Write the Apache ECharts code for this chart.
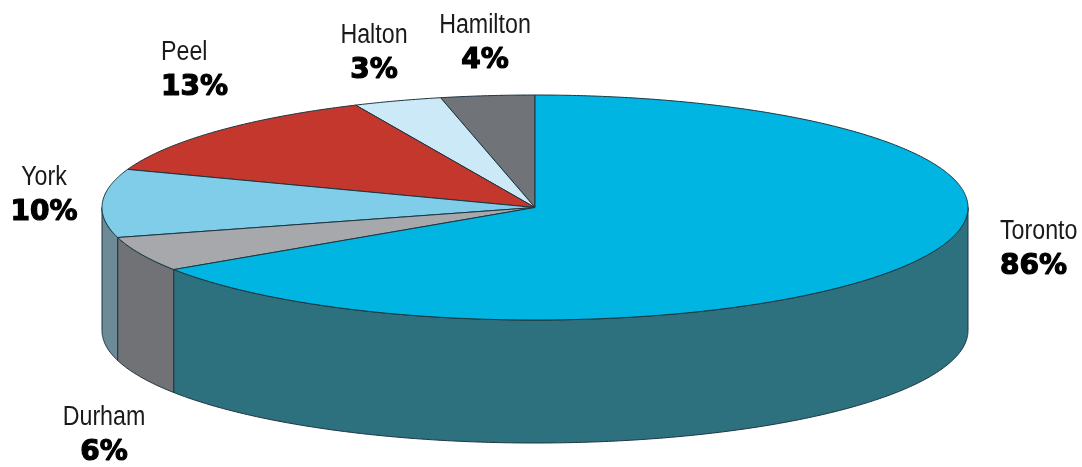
<!DOCTYPE html>
<html>
<head>
<meta charset="utf-8">
<script src="https://cdn.jsdelivr.net/npm/echarts@6/dist/echarts.min.js"></script>
<style>
html,body{margin:0;padding:0;background:#fff;}
#chart{width:1082px;height:467px;}
</style>
</head>
<body>
<div id="chart"></div>
<script>
// ---- data (slices go counter-clockwise from 12 o'clock, Toronto closes the circle) ----
const categories = ['Hamilton', 'Halton', 'Peel', 'York', 'Durham', 'Toronto'];
const shares = [3.5, 3.3, 12.7, 9.8, 5.0, 65.7];
const pctLabels = ['4%', '3%', '13%', '10%', '6%', '86%'];

// ---- styles / layout ----
const topColors = ['#707478', '#cbe9f6', '#c4372d', '#80cdea', '#a6a8ab', '#00b5e2'];
const sideColors = ['#55585b', '#9fbdca', '#8e2a23', '#6c8b97', '#707275', '#2d717f'];
const labelLayout = [
  {x: 485, y: 26, align: 'center'},
  {x: 374, y: 36, align: 'center'},
  {x: 161, y: 53, align: 'left'},
  {x: 44, y: 178, align: 'center'},
  {x: 104, y: 418, align: 'center'},
  {x: 1000, y: 232, align: 'left'}
];
const geom = {cx: 535, cy: 207.5, a: 433, b: 112.5, depth: 123, pctGap: 35};
const NAME_FONT = '27px "Liberation Sans", Arial, sans-serif';
const NAME_SCALE_X = 0.86;
const PCT_FONT = 'bold 28px "DejaVu Sans", sans-serif';

const total = shares.reduce((s, v) => s + v, 0);
const starts = [];
let acc = 0;
shares.forEach(v => { starts.push(acc / total * 360); acc += v; });

function pt(deg, dy) {
  const r = deg * Math.PI / 180;
  return [geom.cx - geom.a * Math.sin(r), geom.cy - geom.b * Math.cos(r) + (dy || 0)];
}
function arc(d1, d2, dy) {
  const pts = [];
  const n = Math.max(2, Math.ceil(Math.abs(d2 - d1) * 2));
  for (let i = 0; i <= n; i++) pts.push(pt(d1 + (d2 - d1) * i / n, dy));
  return pts;
}

function renderItem(params, api) {
  const i = params.dataIndex;
  const v = api.value(0);
  const d1 = starts[i];
  const d2 = d1 + v / total * 360;
  const children = [];
  // side wall (front half: 90..270 deg)
  const s1 = Math.max(d1, 90), s2 = Math.min(d2, 270);
  if (s2 > s1) {
    const top = arc(s1, s2, 0);
    const bot = arc(s2, s1, geom.depth);
    children.push({
      type: 'polygon', z2: 1,
      shape: {points: top.concat(bot)},
      style: {fill: sideColors[i], stroke: '#1c3540', lineWidth: 1, lineJoin: 'round'}
    });
  }
  // top face
  const topPts = [[geom.cx, geom.cy]].concat(arc(d1, d2, 0));
  children.push({
    type: 'polygon', z2: 5,
    shape: {points: topPts},
    style: {fill: topColors[i], stroke: '#1c3540', lineWidth: 1, lineJoin: 'round'}
  });
  const L = labelLayout[i];
  children.push({
    type: 'text', z2: 10, x: L.x, y: L.y, scaleX: NAME_SCALE_X,
    style: {text: categories[i], font: NAME_FONT, fill: '#1a1a1a', align: L.align, verticalAlign: 'middle'}
  });
  children.push({
    type: 'text', z2: 10, x: L.x, y: L.y + geom.pctGap,
    style: {text: pctLabels[i], font: PCT_FONT, fill: '#000', stroke: '#000', lineWidth: 1.2,
            align: L.align, verticalAlign: 'middle'}
  });
  return {type: 'group', children: children};
}

const chart = echarts.init(document.getElementById('chart'), null, {renderer: 'canvas'});
chart.setOption({
  animation: false,
  backgroundColor: '#ffffff',
  series: [{
    type: 'custom',
    coordinateSystem: 'none',
    renderItem: renderItem,
    data: shares.map(v => [v])
  }]
});
</script>
</body>
</html>
